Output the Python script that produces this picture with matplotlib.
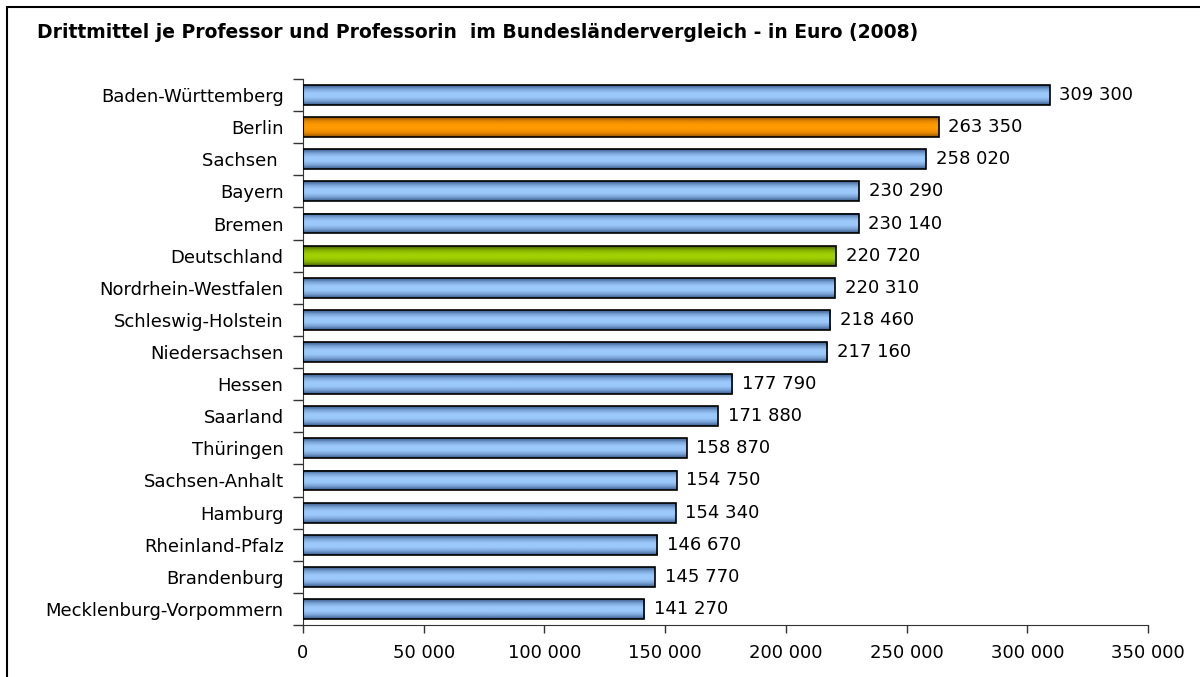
import numpy as np
import matplotlib.pyplot as plt
from matplotlib.colors import LinearSegmentedColormap
from matplotlib.patches import Rectangle
from matplotlib.ticker import FuncFormatter

plt.rcParams["font.family"] = ["DejaVu Sans"]

laender = [
    "Baden-Württemberg", "Berlin", "Sachsen ", "Bayern", "Bremen", "Deutschland",
    "Nordrhein-Westfalen", "Schleswig-Holstein", "Niedersachsen", "Hessen",
    "Saarland", "Thüringen", "Sachsen-Anhalt", "Hamburg", "Rheinland-Pfalz",
    "Brandenburg", "Mecklenburg-Vorpommern",
]
werte = [
    309300, 263350, 258020, 230290, 230140, 220720, 220310, 218460, 217160,
    177790, 171880, 158870, 154750, 154340, 146670, 145770, 141270,
]
farben = {"Berlin": "orange", "Deutschland": "green"}

# dark edge -> light middle -> dark edge
verlauf = {
    "blue": ["#3a5a8a", "#7aa4d8", "#9cc9fb", "#9cc9fb", "#7aa4d8", "#3a5a8a"],
    "orange": ["#945500", "#e68800", "#ff9a00", "#ff9a00", "#e68800", "#945500"],
    "green": ["#4a6600", "#84b000", "#9fd000", "#9fd000", "#84b000", "#4a6600"],
}


def fmt(v):
    return f"{int(v):,}".replace(",", " ")


fig = plt.figure(figsize=(12, 6.77), dpi=100)
ax = fig.add_axes([303 / 1200, 1 - 625 / 677, 845 / 1200, 546 / 677])

grad = np.linspace(0, 1, 64).reshape(-1, 1)
h = 0.62
for i, (name, v) in enumerate(zip(laender, werte)):
    key = farben.get(name.strip(), "blue")
    cmap = LinearSegmentedColormap.from_list(key, verlauf[key])
    ax.imshow(grad, cmap=cmap, aspect="auto", extent=(0, v, i + h / 2, i - h / 2),
              zorder=2, interpolation="bilinear")
    ax.add_patch(Rectangle((0, i - h / 2), v, h, facecolor="none",
                           edgecolor="black", linewidth=1.2, zorder=3))
    ax.text(v + 4000, i, fmt(v), va="center", ha="left", fontsize=13)

ax.set_xlim(0, 350000)
ax.set_ylim(len(laender) - 0.5, -0.5)
ax.set_xticks(range(0, 350001, 50000))
ax.xaxis.set_major_formatter(FuncFormatter(lambda v, p: fmt(v)))
ax.set_yticks(range(len(laender)))
ax.set_yticklabels(laender)
ax.set_yticks(np.arange(-0.5, len(laender), 1), minor=True)
ax.tick_params(axis="y", which="major", length=0, pad=14, labelsize=13)
ax.tick_params(axis="y", which="minor", length=7, width=1, color="#333333")
ax.tick_params(axis="x", length=6, width=1, color="#333333", labelsize=13, pad=8)
for s in ["top", "right"]:
    ax.spines[s].set_visible(False)
for s in ["left", "bottom"]:
    ax.spines[s].set_color("#333333")

fig.text(37 / 1200, 1 - 33 / 677,
         "Drittmittel je Professor und Professorin  im Bundesländervergleich - in Euro (2008)",
         fontsize=13.5, fontweight="bold", va="center", ha="left")

fig.patches.append(Rectangle((7 / 1200, -0.05), 1.2, 1 - 7 / 677 + 0.05,
                             transform=fig.transFigure, fill=False,
                             edgecolor="black", linewidth=1.5))

fig.savefig("out.png", dpi=100)
